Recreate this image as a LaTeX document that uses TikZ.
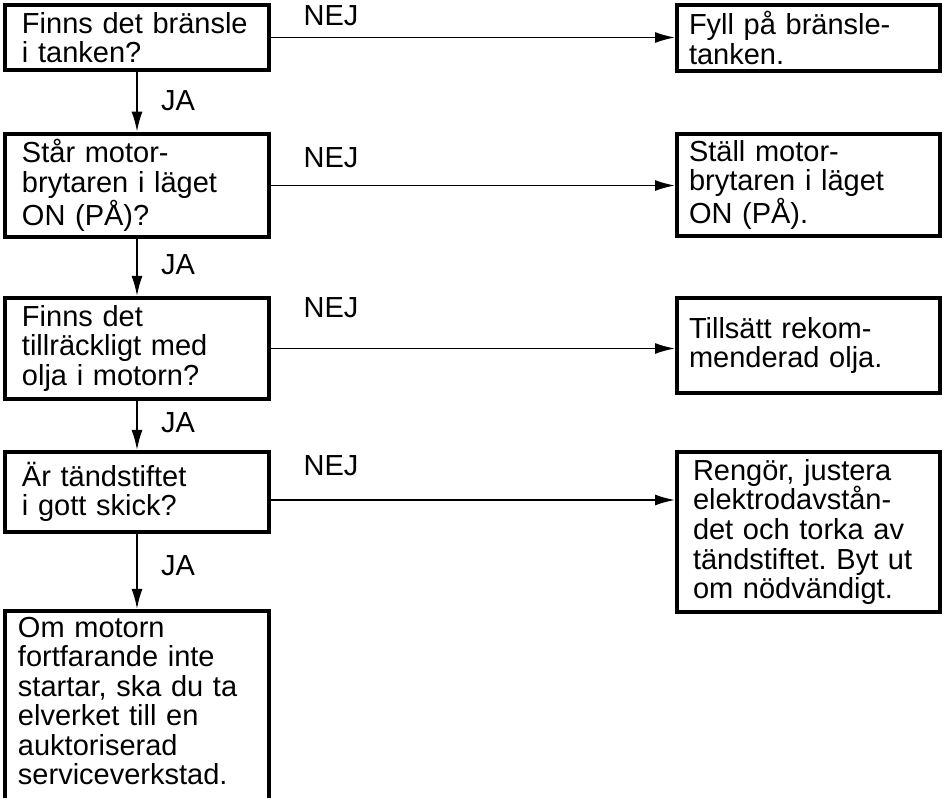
\documentclass[tikz,border=0pt]{standalone}
\usepackage{fontspec}
\setmainfont{Liberation Sans}
\usetikzlibrary{arrows.meta,positioning}
\frenchspacing

\begin{document}
\begin{tikzpicture}[x=0.2mm, y=-0.2mm, >={Latex[length=4mm,width=2.2mm]},
  every node/.style={font=\fontsize{16.5}{16.8}\selectfont},
  box/.style={draw,line width=0.8mm,align=left,inner xsep=3.4mm,
              text width=46mm},
  fixbox/.style={box,inner xsep=2.4mm,text width=47.8mm},
  flow/.style={->,line width=0.35mm}]
 \clip (0,0) rectangle (943,798);
 % questions
 \node[box,minimum height=13mm] (fuel) at (137,37.5)
    {Finns det bränsle\\i tanken?};
 \node[box,minimum height=20.2mm] (switch) at (137,185.5)
    {Står motor-\\brytaren i läget\\ON (PÅ)?};
 \node[box,minimum height=20.2mm] (oil) at (137,348.5)
    {Finns det\\tillräckligt med\\olja i motorn?};
 \node[box,minimum height=16mm] (plug) at (137,492)
    {Är tändstiftet\\i gott skick?};
 \node[box,inner xsep=2.6mm,text width=47.6mm,minimum height=41.4mm]
    (service) at (137,715.5)
    {Om motorn\\fortfarande inte\\startar, ska du ta\\elverket till en\\auktoriserad\\serviceverkstad.\\\mbox{}};
 % remedies
 \node[fixbox,minimum height=13.2mm] (fill) at (808.5,38)
    {Fyll på bränsle-\\tanken.};
 \node[fixbox,minimum height=20.4mm] (seton) at (808.5,185)
    {Ställ motor-\\brytaren i läget\\ON (PÅ).};
 \node[fixbox,minimum height=19mm] (addoil) at (808.5,345.5)
    {Tillsätt rekom-\\menderad olja.};
 \node[fixbox,inner xsep=3.2mm,text width=46.2mm,minimum height=32mm]
    (clean) at (808.5,532)
    {Rengör, justera\\elektrodavstån-\\det och torka av\\tändstiftet. Byt ut\\om nödvändigt.};
 % answers
 \node (nej1) at (331,16) {NEJ};
 \node (nej2) at (331,158) {NEJ};
 \node (nej3) at (331,308) {NEJ};
 \node (nej4) at (331,466) {NEJ};
 \node[anchor=west] (ja1) at (155,101) {JA};
 \node[anchor=west] (ja2) at (155,265) {JA};
 \node[anchor=west] (ja3) at (155,423) {JA};
 \node[anchor=west] (ja4) at (155,566) {JA};
 \draw[flow] (fuel.east) -- (fuel.east -| fill.west);
 \draw[flow] (switch.east) -- (switch.east -| seton.west);
 \draw[flow] (oil.east) -- (oil.east -| addoil.west);
 \draw[flow] ([yshift=-1.6mm]plug.east) -- ([yshift=-1.6mm]plug.east -| clean.west);
 \draw[flow] (fuel) -- (switch);
 \draw[flow] (switch) -- (oil);
 \draw[flow] (oil) -- (plug);
 \draw[flow] (plug) -- (service);
\end{tikzpicture}
\end{document}
